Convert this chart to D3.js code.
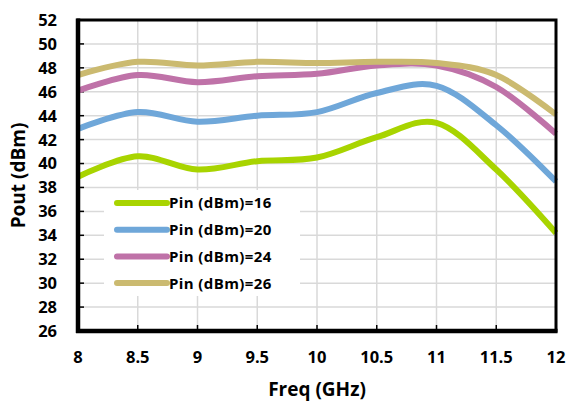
<!DOCTYPE html>
<html>
<head>
<meta charset="utf-8">
<script src="https://cdn.jsdelivr.net/npm/d3@7"></script>
<style>
  body { margin: 0; background: #fff; }
  svg { font-family: "Open Sans", "Liberation Sans", Arial, sans-serif; font-weight: bold; }
</style>
</head>
<body>
<div id="chart"></div>
<script>
// data
const freq = [8, 8.5, 9, 9.5, 10, 10.5, 11, 11.5, 12];
const pin16 = [38.9, 40.6, 39.5, 40.2, 40.5, 42.2, 43.4, 39.5, 34.2];
const pin20 = [42.9, 44.3, 43.5, 44.0, 44.3, 45.9, 46.5, 43.2, 38.5];
const pin24 = [46.1, 47.4, 46.8, 47.3, 47.5, 48.2, 48.2, 46.4, 42.5];
const pin26 = [47.4, 48.5, 48.2, 48.5, 48.4, 48.5, 48.4, 47.4, 44.1];
const seriesNames = ["Pin (dBm)=16", "Pin (dBm)=20", "Pin (dBm)=24", "Pin (dBm)=26"];
const xTicks = [8, 8.5, 9, 9.5, 10, 10.5, 11, 11.5, 12];
const yTicks = d3.range(26, 53, 2);

const colors = ["#a8d400", "#6fa7d9", "#bf72a8", "#cbba70"];
const series = [pin16, pin20, pin24, pin26];

const width = 568, height = 404;
const m = {left: 78, right: 12, top: 20, bottom: 73};

const svg = d3.select("#chart").append("svg")
    .attr("width", width)
    .attr("height", height);

const x = d3.scaleLinear().domain([8, 12]).range([m.left, width - m.right]);
const y = d3.scaleLinear().domain([26, 52]).range([height - m.bottom, m.top]);

// grid
svg.append("g").selectAll("line.v")
    .data(xTicks.slice(1, -1))
    .enter().append("line")
    .attr("x1", d => x(d)).attr("x2", d => x(d))
    .attr("y1", y(52)).attr("y2", y(26))
    .attr("stroke", "#d9d9d9").attr("stroke-width", 1.5);

svg.append("g").selectAll("line.h")
    .data(yTicks.slice(1, -1))
    .enter().append("line")
    .attr("x1", x(8)).attr("x2", x(12))
    .attr("y1", d => y(d)).attr("y2", d => y(d))
    .attr("stroke", "#d9d9d9").attr("stroke-width", 1.5);

// legend background (covers gridlines)
svg.append("rect")
    .attr("x", 104).attr("y", 190)
    .attr("width", 196).attr("height", 106)
    .attr("fill", "#fff");

// inward tick marks
svg.append("g").selectAll("line")
    .data(yTicks)
    .enter().append("line")
    .attr("x1", x(8)).attr("x2", x(8) + 6)
    .attr("y1", d => y(d)).attr("y2", d => y(d))
    .attr("stroke", "#000").attr("stroke-width", 1.5);

svg.append("g").selectAll("line")
    .data(xTicks)
    .enter().append("line")
    .attr("x1", d => x(d)).attr("x2", d => x(d))
    .attr("y1", y(26)).attr("y2", y(26) - 6)
    .attr("stroke", "#000").attr("stroke-width", 1.5);

// curves
const line = d3.line()
    .x((d, i) => x(freq[i]))
    .y(d => y(d))
    .curve(d3.curveCatmullRom.alpha(0));

series.forEach((s, i) => {
    svg.append("path")
        .datum(s)
        .attr("d", line)
        .attr("fill", "none")
        .attr("stroke", colors[i])
        .attr("stroke-width", 6);
});

// plot border
svg.append("rect")
    .attr("x", x(8)).attr("y", y(52))
    .attr("width", x(12) - x(8)).attr("height", y(26) - y(52))
    .attr("fill", "none")
    .attr("stroke", "#000").attr("stroke-width", 3);
svg.append("line")
    .attr("x1", x(8)).attr("x2", x(8))
    .attr("y1", y(52) - 1.5).attr("y2", y(26) + 2)
    .attr("stroke", "#000").attr("stroke-width", 4.5);
svg.append("line")
    .attr("x1", x(8) - 2).attr("x2", x(12) + 1.5)
    .attr("y1", y(26)).attr("y2", y(26))
    .attr("stroke", "#000").attr("stroke-width", 4.5);

// tick labels
svg.append("g").selectAll("text")
    .data(yTicks)
    .enter().append("text")
    .attr("x", 57).attr("y", d => y(d))
    .attr("dy", "0.36em")
    .attr("text-anchor", "end")
    .attr("font-size", 16.5)
    .text(d => d);

svg.append("g").selectAll("text")
    .data(xTicks)
    .enter().append("text")
    .attr("x", d => x(d)).attr("y", 363)
    .attr("text-anchor", "middle")
    .attr("font-size", 16.5)
    .text(d => d);

// axis titles
svg.append("text")
    .attr("x", (x(8) + x(12)) / 2).attr("y", 396)
    .attr("text-anchor", "middle")
    .attr("font-size", 19)
    .text("Freq (GHz)");

svg.append("text")
    .attr("transform", `translate(25,${(y(26) + y(52)) / 2}) rotate(-90)`)
    .attr("text-anchor", "middle")
    .attr("font-size", 19)
    .text("Pout (dBm)");

// legend
const legend = svg.append("g").selectAll("g")
    .data(seriesNames)
    .enter().append("g")
    .attr("transform", (d, i) => `translate(117,${203 + i * 26.7})`);

legend.append("line")
    .attr("x1", 0).attr("x2", 50)
    .attr("stroke", (d, i) => colors[i])
    .attr("stroke-width", 6)
    .attr("stroke-linecap", "round");

legend.append("text")
    .attr("x", 52).attr("dy", "0.36em")
    .attr("font-size", 15)
    .attr("letter-spacing", 0.4)
    .text(d => d);
</script>
</body>
</html>
